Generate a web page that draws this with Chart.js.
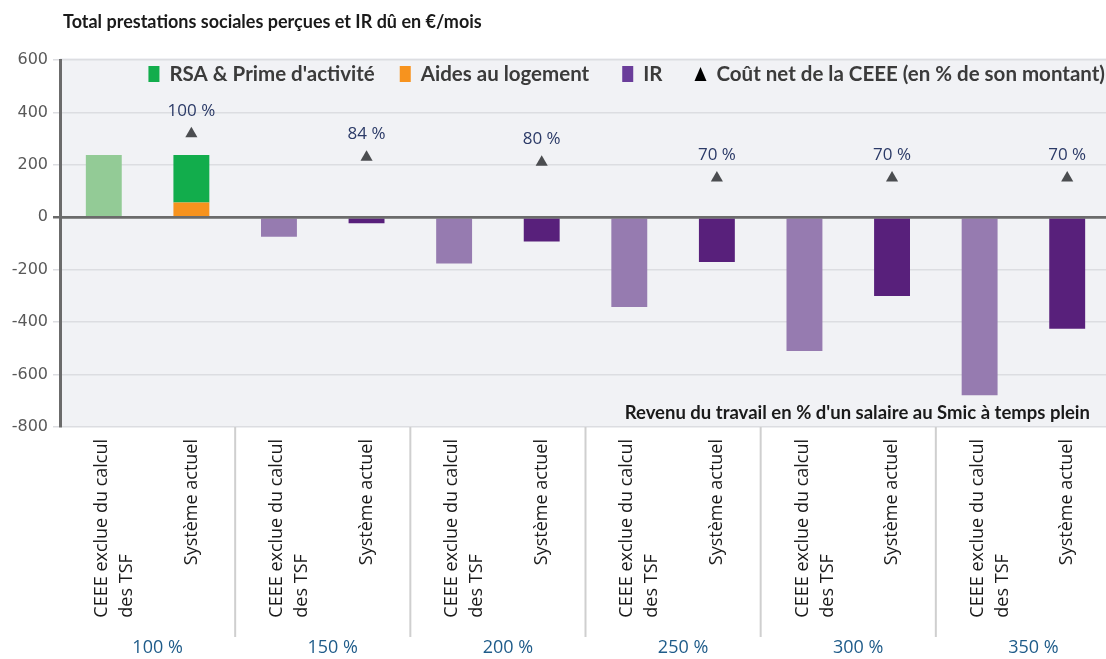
<!DOCTYPE html>
<html>
<head>
<meta charset="utf-8">
<script src="https://cdn.jsdelivr.net/npm/chart.js@4.4.1/dist/chart.umd.min.js"></script>
<style>
  html, body { margin: 0; padding: 0; background: #fff; overflow: hidden; }
  #wrap { width: 1118px; height: 659px; }
  canvas { display: block; }
</style>
</head>
<body>
<div id="wrap"><canvas id="chart"></canvas></div>
<script>
// Revenu du travail (en % du Smic) et scénarios
const groups = ['100 %', '150 %', '200 %', '250 %', '300 %', '350 %'];
const scenarios = [['CEEE exclue du calcul', 'des TSF'], ['Système actuel']];

// Valeurs en €/mois
const rsaCeee = [238, 0, 0, 0, 0, 0];
const rsaActuel = [182, 0, 0, 0, 0, 0];
const logementCeee = [0, 0, 0, 0, 0, 0];
const logementActuel = [56, 0, 0, 0, 0, 0];
const irCeee = [0, -74, -176, -342, -510, -679];
const irActuel = [0, -23, -92, -171, -300, -425];

// Coût net de la CEEE : position du triangle et libellé
const coutNetPos = [319, 229, 210, 150, 150, 150];
const coutNetPct = [100, 84, 80, 70, 70, 70];

const yTicks = [600, 400, 200, 0, -200, -400, -600, -800];

const colors = {
    rsa: ['#93cb96', '#12ad4c'],
    logement: ['#f7931e', '#f7931e'],
    ir: ['#967bb0', '#58207b'],
    triangle: '#4b4d50'
};

const labels = groups.flatMap(g => scenarios.map(s => s));

function pairs(a, b) {
    // alterne CEEE exclue / Système actuel, 0 -> null pour ne rien dessiner
    return a.flatMap((v, i) => [a[i] || null, b[i] || null]);
}

function barColors(c) {
    return labels.map((_, i) => c[i % 2]);
}

const triangleData = coutNetPos.flatMap(v => [null, v]);
const triangleText = coutNetPct.flatMap(v => [null, v + ' %']);

const legendOrder = [1, 0, 2, 3];

const decorations = {
    id: 'decorations',
    beforeDraw(chart) {
        const {ctx, chartArea: a} = chart;
        ctx.save();
        ctx.fillStyle = '#f1f2f5';
        ctx.fillRect(a.left, a.top - 2, a.right - a.left, a.bottom - a.top + 2);
        ctx.restore();
    },
    afterDatasetsDraw(chart) {
        const {ctx, chartArea: a, scales} = chart;
        const y0 = scales.y.getPixelForValue(0);
        ctx.save();
        // ligne du zéro par-dessus les barres
        ctx.strokeStyle = '#6b6b6b';
        ctx.lineWidth = 2.5;
        ctx.beginPath();
        ctx.moveTo(a.left, y0);
        ctx.lineTo(a.right, y0);
        ctx.stroke();

        // libellés % au-dessus des triangles
        const meta = chart.getDatasetMeta(3);
        ctx.font = '17px "Open Sans"';
        ctx.fillStyle = '#2b3a67';
        ctx.textAlign = 'center';
        ctx.textBaseline = 'middle';
        meta.data.forEach((pt, i) => {
            if (triangleText[i] === null) return;
            ctx.fillText(triangleText[i], pt.x, pt.y - 23);
        });
        ctx.restore();
    },
    afterDraw(chart) {
        const {ctx, chartArea: a, scales} = chart;
        const x = scales.x;
        ctx.save();

        // titre
        ctx.font = 'bold 18px Lato';
        ctx.fillStyle = '#1a1a1a';
        ctx.textAlign = 'left';
        ctx.textBaseline = 'middle';
        ctx.fillText('Total prestations sociales perçues et IR dû en €/mois', 63, 22);

        // titre de l'axe horizontal
        ctx.font = 'bold 18.5px Lato';
        ctx.textAlign = 'right';
        ctx.fillText("Revenu du travail en % d'un salaire au Smic à temps plein", 1090, 413);

        // légende, alignée à droite
        ctx.font = 'bold 20.5px Lato';
        let right = 1105;
        const ly = 74;
        const gaps = [0, 25, 33, 32];
        for (let k = legendOrder.length - 1; k >= 0; k--) {
            const ds = chart.data.datasets[legendOrder[k]];
            const w = ctx.measureText(ds.label).width;
            ctx.fillStyle = '#3b3b3b';
            ctx.textAlign = 'left';
            ctx.fillText(ds.label, right - w, ly);
            const bx = right - w - 10;
            if (ds.type === 'line') {
                ctx.fillStyle = '#000';
                ctx.beginPath();
                ctx.moveTo(bx - 12, ly + 7);
                ctx.lineTo(bx - 6, ly - 7);
                ctx.lineTo(bx, ly + 7);
                ctx.closePath();
                ctx.fill();
                right = bx - 12 - (gaps[k] || 0);
            } else {
                ctx.fillStyle = ds.legendColor;
                ctx.fillRect(bx - 11, ly - 8, 11, 16);
                right = bx - 11 - (gaps[k] || 0);
            }
        }

        // libellés des catégories, tournés
        ctx.font = '18px "Open Sans"';
        ctx.fillStyle = '#1a1a1a';
        ctx.textBaseline = 'middle';
        ctx.textAlign = 'left';
        labels.forEach((lines, i) => {
            const cx = x.getPixelForValue(i);
            const blockW = Math.max(...lines.map(l => ctx.measureText(l).width));
            const startY = a.bottom + 12 + blockW;
            const x0 = lines.length > 1 ? cx - 2 : cx;
            lines.forEach((line, j) => {
                ctx.save();
                ctx.translate(x0 + j * 25, startY);
                ctx.rotate(-Math.PI / 2);
                ctx.fillText(line, 0, 0);
                ctx.restore();
            });
        });

        // séparateurs et libellés de groupe
        ctx.strokeStyle = '#cfcfcf';
        ctx.lineWidth = 2;
        ctx.font = '18px "Open Sans"';
        ctx.fillStyle = '#1f5c8a';
        ctx.textAlign = 'center';
        groups.forEach((g, k) => {
            const p0 = x.getPixelForValue(2 * k);
            const p1 = x.getPixelForValue(2 * k + 1);
            ctx.fillText(g, (p0 + p1) / 2 + 10, 648);
            if (k > 0) {
                const sx = (x.getPixelForValue(2 * k - 1) + p0) / 2;
                ctx.beginPath();
                ctx.moveTo(sx, a.bottom);
                ctx.lineTo(sx, 637);
                ctx.stroke();
            }
        });
        ctx.restore();
    }
};

const chart = new Chart(document.getElementById('chart'), {
    type: 'bar',
    data: {
        labels: labels,
        datasets: [
            {
                label: 'Aides au logement',
                data: pairs(logementCeee, logementActuel),
                backgroundColor: barColors(colors.logement),
                legendColor: '#f7931e'
            },
            {
                label: "RSA & Prime d'activité",
                data: pairs(rsaCeee, rsaActuel),
                backgroundColor: barColors(colors.rsa),
                legendColor: '#12ad4c'
            },
            {
                label: 'IR',
                data: pairs(irCeee, irActuel),
                backgroundColor: barColors(colors.ir),
                legendColor: '#6a3d9a'
            },
            {
                type: 'line',
                label: 'Coût net de la CEEE (en % de son montant)',
                data: triangleData,
                stack: 'triangles',
                showLine: false,
                pointStyle: 'triangle',
                pointRadius: 7,
                pointBorderWidth: 0,
                pointBackgroundColor: colors.triangle,
                borderColor: colors.triangle
            }
        ]
    },
    options: {
        animation: false,
        responsive: true,
        maintainAspectRatio: false,
        barPercentage: 0.41,
        categoryPercentage: 1,
        layout: {
            padding: { top: 60, bottom: 232, left: 0, right: 0 }
        },
        scales: {
            x: {
                display: false,
                stacked: true
            },
            y: {
                stacked: true,
                min: -800,
                max: 600,
                afterFit: scale => { scale.width = 60; },
                afterBuildTicks: scale => {
                    scale.ticks = yTicks.map(v => ({ value: v }));
                },
                ticks: {
                    padding: 5,
                    color: '#595959',
                    font: { family: 'DejaVu Sans', size: 16 }
                },
                grid: {
                    color: ctx => ctx.tick && ctx.tick.value === 0 ? '#6b6b6b' : '#dcdde1',
                    lineWidth: ctx => ctx.tick && ctx.tick.value === 0 ? 2.5 : 1.5,
                    tickLength: 7
                },
                border: {
                    color: '#6b6b6b',
                    width: 3
                }
            }
        },
        plugins: {
            legend: { display: false },
            tooltip: { enabled: false },
            title: { display: false }
        }
    },
    plugins: [decorations]
});
</script>
</body>
</html>
